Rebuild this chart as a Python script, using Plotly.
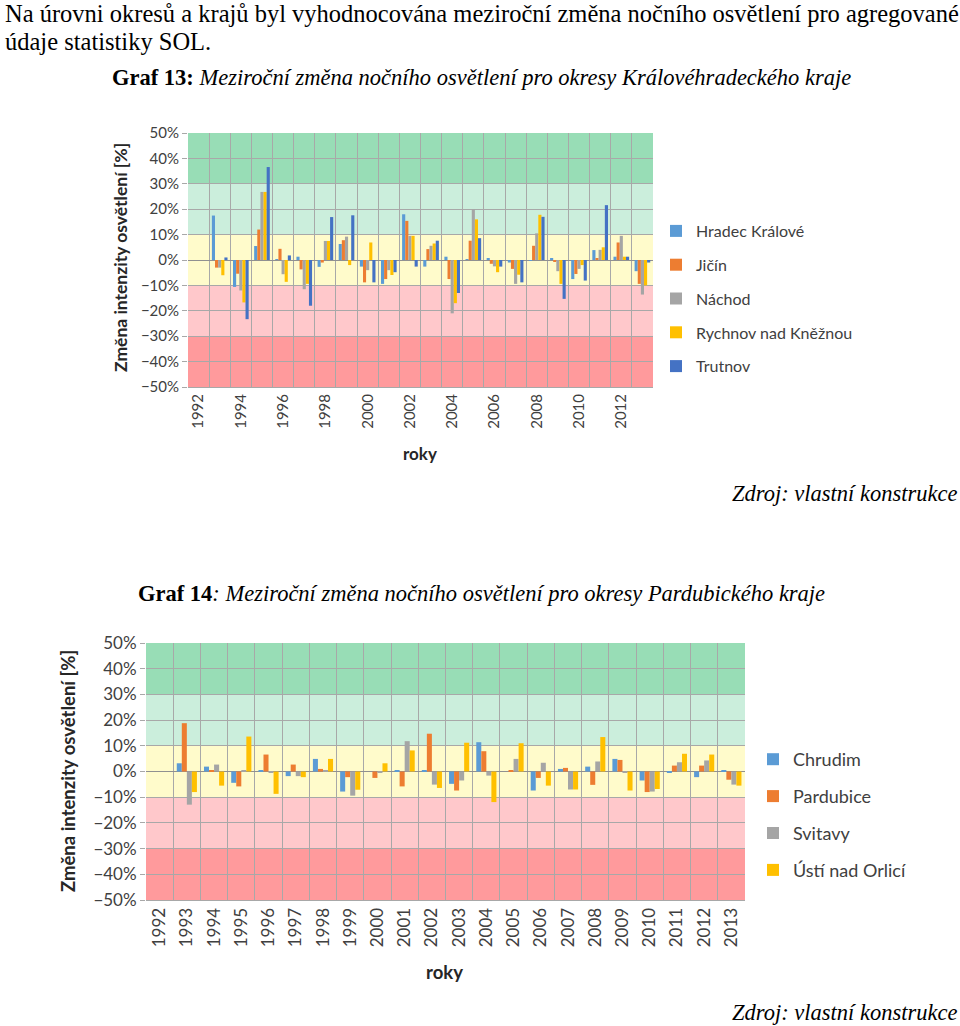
import plotly.graph_objects as go

years = list(range(1992, 2014))

# Graf 13 – Královéhradecký kraj (meziroční změna, %)
kh_names = ["Hradec Králové", "Jičín", "Náchod", "Rychnov nad Kněžnou", "Trutnov"]
hradec = [None, 17.5, -10.6, 5.5, 0.2, 1.3, -2.7, 6.3, -2.6, -9.4, 18.0, -2.6, 1.3, 0.2, 0.5, -1.0, -0.3, 0.7, -7.5, 3.9, 1.3, -4.4]
jicin = [None, -3.0, -5.4, 12.0, 4.4, -3.7, -1.0, 7.8, -8.8, -7.5, 15.4, 4.3, -7.5, 7.6, -1.5, -3.5, 5.6, -0.5, -5.5, 0.8, 6.9, -9.4]
nachod = [None, -3.0, -12.0, 26.8, -5.6, -11.5, 7.5, 9.2, -4.0, -4.0, 9.5, 5.6, -21.0, 20.0, -2.5, -9.4, 10.5, -4.4, -3.5, 4.0, 9.5, -13.6]
rychnov = [None, -6.0, -16.7, 26.8, -8.6, -9.4, 7.5, -2.0, 6.9, -5.9, 9.5, 6.5, -17.0, 16.0, -4.8, -5.8, 17.8, -9.4, -2.0, 5.0, 1.3, -10.0]
trutnov = [None, 1.0, -23.3, 36.6, 1.8, -18.0, 16.9, 17.6, -8.8, -4.8, -2.6, 7.6, -13.0, 8.6, -2.6, -8.8, 17.0, -15.3, -8.1, 21.6, 1.3, -1.0]

# Graf 14 – Pardubický kraj (meziroční změna, %)
pa_names = ["Chrudim", "Pardubice", "Svitavy", "Ústí nad Orlicí"]
chrudim = [None, 3.2, 1.9, -4.4, 0.4, -1.8, 4.9, -7.8, 0.0, 0.4, 0.4, -4.8, 11.4, 0.0, -7.4, 1.0, 1.9, 4.9, -3.5, -0.5, -2.2, 0.4]
pardubice = [None, 18.8, 0.3, -5.8, 6.6, 2.7, 1.0, -2.2, -2.5, -5.8, 14.7, -7.4, 7.9, 0.4, -2.5, 1.4, -5.2, 4.5, -8.0, 2.3, 2.3, -3.2]
svitavy = [None, -12.9, 2.7, 0.3, -0.3, -1.8, 0.4, -9.4, -0.3, 11.8, -5.1, -3.5, -1.6, 4.9, 3.4, -7.0, 3.9, -0.3, -7.8, 3.6, 4.3, -5.1]
usti = [None, -8.0, -5.5, 13.6, -8.7, -2.2, 4.9, -7.1, 3.2, 8.2, -6.4, 11.2, -11.9, 11.0, -5.5, -7.0, 13.4, -7.4, -6.8, 6.9, 6.6, -5.5]

kh_colors = ["#5B9BD5", "#ED7D31", "#A5A5A5", "#FFC000", "#4472C4"]
pa_colors = ["#5B9BD5", "#ED7D31", "#A5A5A5", "#FFC000"]

# background bands (from, to, colour)
bands = [(30, 50, "#98DDB6"), (10, 30, "#CBEEDC"), (-10, 10, "#FFFBCB"),
         (-30, -10, "#FFC8CB"), (-50, -30, "#FF9A9C")]

W, H = 960, 1026
def px(x):
    return x / W
def py(y):
    return 1 - y / H

fig = go.Figure()

for i, (name, vals) in enumerate(zip(kh_names, [hradec, jicin, nachod, rychnov, trutnov])):
    fig.add_trace(go.Bar(x=years, y=vals, name=name, marker_color=kh_colors[i],
                         marker_line_width=0, xaxis="x", yaxis="y",
                         legend="legend", legendgroup="a%d" % i))
for i, (name, vals) in enumerate(zip(pa_names, [chrudim, pardubice, svitavy, usti])):
    fig.add_trace(go.Bar(x=years, y=vals, name=name, marker_color=pa_colors[i],
                         marker_line_width=0, xaxis="x2", yaxis="y2",
                         legend="legend2", legendgroup="b%d" % i))

grid = "#A8A8A8"
axfont = "Lato"
shapes = []
for xr, yr in (("x domain", "y"), ("x2 domain", "y2")):
    for lo, hi, col in bands:
        shapes.append(dict(type="rect", xref=xr, yref=yr, x0=0, x1=1, y0=lo, y1=hi,
                           fillcolor=col, line_width=0, layer="below"))

def yax(domain, anchor, size):
    return dict(domain=domain, anchor=anchor, range=[-50, 50], dtick=10, ticksuffix="%",
                showgrid=True, gridcolor=grid, gridwidth=1, zeroline=True, zerolinecolor="#909090",
                zerolinewidth=1, ticks="outside", ticklen=5, tickcolor=grid, automargin=False,
                tickfont=dict(family=axfont, size=size, color="#404040"), fixedrange=True)

def xax(domain, anchor, size, step):
    return dict(domain=domain, anchor=anchor, range=[1991.5, 2013.5], tickmode="linear",
                tick0=1992, dtick=step, tickangle=-90, showgrid=False, zeroline=False,
                ticks="", tickfont=dict(family=axfont, size=size, color="#404040"), automargin=False,
                minor=dict(tick0=1991.5, dtick=1, showgrid=True, gridcolor=grid, gridwidth=1, ticks=""),
                showline=True, linecolor=grid, fixedrange=True)

serif = "Liberation Serif"
ann = [
    dict(text="Na úrovni okresů a krajů byl vyhodnocována meziroční změna nočního osvětlení pro agregované",
         x=px(3), y=py(13), xanchor="left", yanchor="middle", font=dict(family=serif, size=24.5, color="black")),
    dict(text="údaje statistiky SOL.", x=px(3), y=py(41), xanchor="left", yanchor="middle",
         font=dict(family=serif, size=24.5, color="black")),
    dict(text="<b>Graf 13:</b> <i>Meziroční změna nočního osvětlení pro okresy Královéhradeckého kraje</i>",
         x=px(481), y=py(77), xanchor="center", yanchor="middle", font=dict(family=serif, size=22.5, color="black")),
    dict(text="<i>Zdroj: vlastní konstrukce</i>", x=px(959), y=py(494), xanchor="right", yanchor="middle",
         font=dict(family=serif, size=22.5, color="black")),
    dict(text="<b>Graf 14</b><i>: Meziroční změna nočního osvětlení pro okresy Pardubického kraje</i>",
         x=px(481), y=py(593), xanchor="center", yanchor="middle", font=dict(family=serif, size=22.5, color="black")),
    dict(text="<i>Zdroj: vlastní konstrukce</i>", x=px(959), y=py(1012), xanchor="right", yanchor="middle",
         font=dict(family=serif, size=22.5, color="black")),
    dict(text="<b>Změna intenzity osvětlení [%]</b>", x=px(120), y=py(258), textangle=-90,
         xanchor="center", yanchor="middle", font=dict(family=axfont, size=17.5, color="#262626")),
    dict(text="<b>roky</b>", x=px(420), y=py(454), xanchor="center", yanchor="middle",
         font=dict(family=axfont, size=17, color="#262626")),
    dict(text="<b>Změna intenzity osvětlení [%]</b>", x=px(68), y=py(771), textangle=-90,
         xanchor="center", yanchor="middle", font=dict(family=axfont, size=18.5, color="#262626")),
    dict(text="<b>roky</b>", x=px(444), y=py(972), xanchor="center", yanchor="middle",
         font=dict(family=axfont, size=18.5, color="#262626")),
]
for a in ann:
    a.update(xref="paper", yref="paper", showarrow=False)

fig.update_layout(
    width=W, height=H, autosize=False,
    margin=dict(l=0, r=0, t=0, b=0, pad=0, autoexpand=False),
    paper_bgcolor="white", plot_bgcolor="white",
    barmode="group", bargap=0.26, bargroupgap=0,
    xaxis=xax([px(188), px(653)], "y", 15, 2),
    yaxis=yax([py(387), py(133)], "x", 15),
    xaxis2=xax([px(146), px(745)], "y2", 17, 1),
    yaxis2=yax([py(900), py(643)], "x2", 17),
    shapes=shapes,
    annotations=ann,
    legend=dict(x=px(656), y=py(214), xanchor="left", yanchor="top", traceorder="grouped",
                tracegroupgap=10, itemwidth=30, bgcolor="rgba(0,0,0,0)",
                font=dict(family=axfont, size=16, color="#404040")),
    legend2=dict(x=px(753), y=py(741), xanchor="left", yanchor="top", traceorder="grouped",
                 tracegroupgap=10.5, itemwidth=30, bgcolor="rgba(0,0,0,0)",
                 font=dict(family=axfont, size=18, color="#404040")),
    showlegend=True,
)

post = (
    "document.documentElement.style.margin='0';"
    "document.body.style.margin='0';"
    "document.body.style.overflow='hidden';"
    "var d=document.getElementsByClassName('plotly-graph-div')[0];"
    "d.style.position='fixed';d.style.top='0px';d.style.left='0px';"
)
fig.write_html("out.html", config={"displayModeBar": False}, post_script=post)
